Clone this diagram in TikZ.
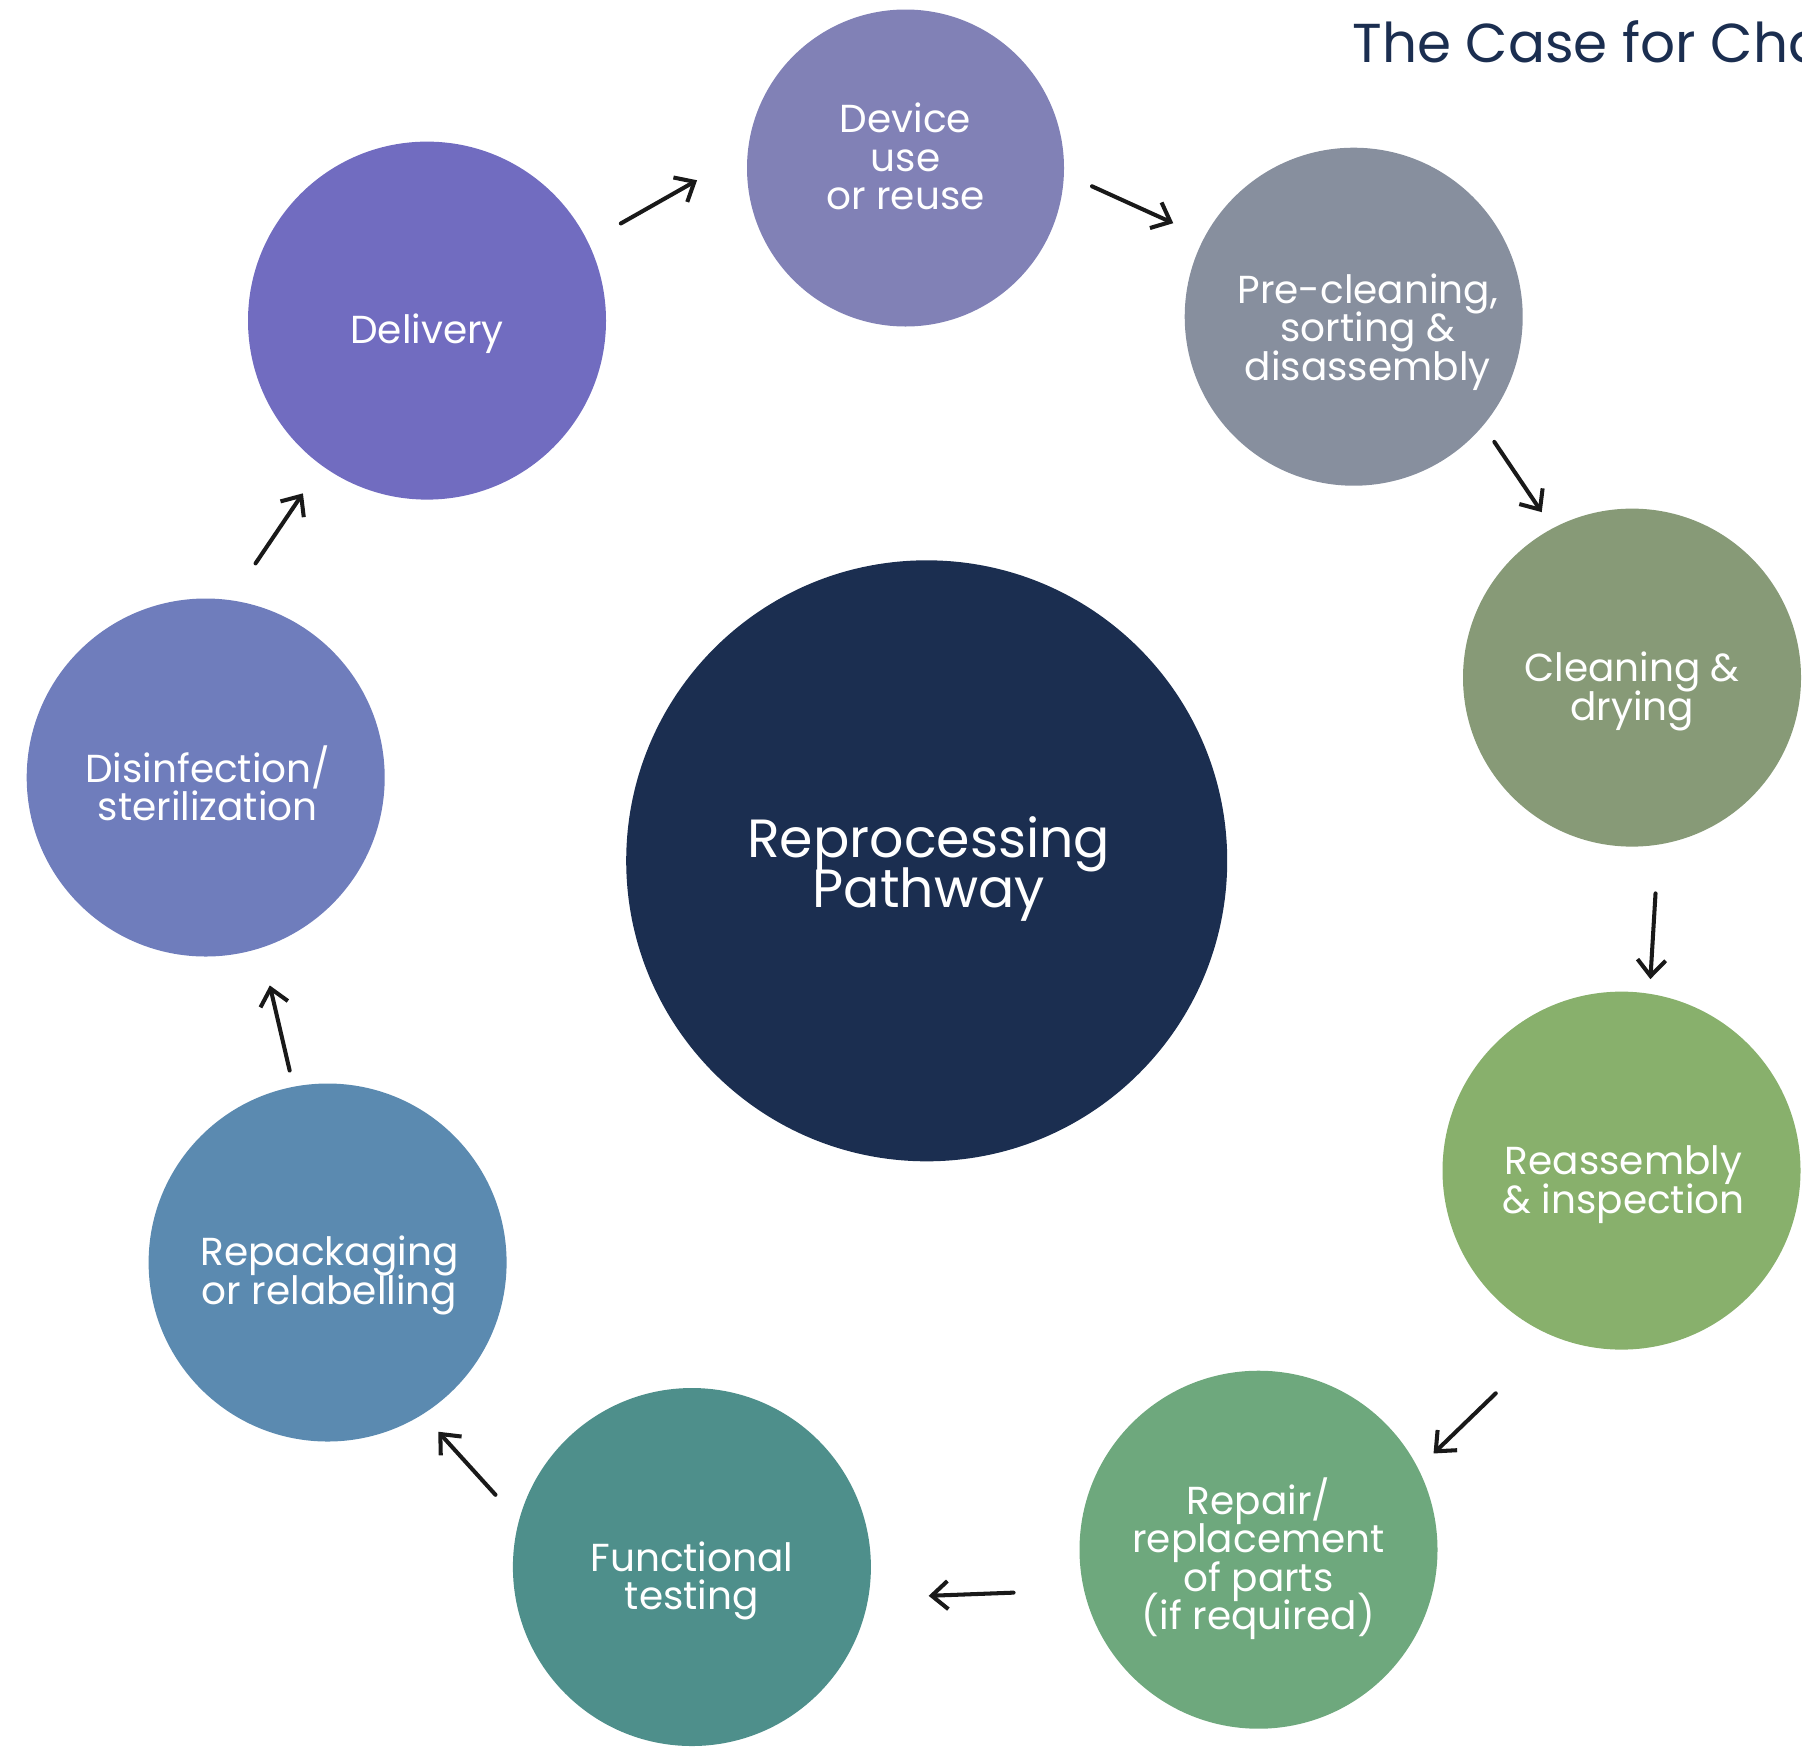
\documentclass[tikz,border=0pt]{standalone}
\usepackage{fontspec}
\setmainfont{Poppins}
\usetikzlibrary{arrows.meta}

\definecolor{navy}{HTML}{1B2E50}
\definecolor{device}{HTML}{8181B6}
\definecolor{preclean}{HTML}{878F9E}
\definecolor{cleaning}{HTML}{879A77}
\definecolor{reassembly}{HTML}{88B06C}
\definecolor{repair}{HTML}{6EA87D}
\definecolor{testing}{HTML}{4E8F8B}
\definecolor{repack}{HTML}{5B8AB0}
\definecolor{disinfect}{HTML}{6F7DBC}
\definecolor{delivery}{HTML}{716CC0}

% lines in the circles sit closer than the font would allow
\newcommand{\tightlines}{\lineskiplimit=-20pt\relax}

\begin{document}
\begin{tikzpicture}
            \tikzset{stage/.style = {shape=circle, inner sep=0pt, outer sep=0pt, minimum size=3.58cm}}
            \tikzset{caption/.style = {inner sep=0pt, text=white, align=center, font=\fontsize{11.1}{10.95}\selectfont\tightlines}}
            \tikzset{link/.style = {-{Straight Barb[length=4.6pt, width=8pt]}, line width=1.15pt, line cap=round, color=black!90}}

            \useasboundingbox (0, 0) rectangle (18.02, -17.46);

            \node[anchor=base west, color=navy, font=\fontsize{15.6}{16}\selectfont] (title) at (13.40, -0.62) {The Case for Cha};

            % the circles
            \node[stage, fill=navy, minimum size=6.01cm] (0) at (9.267, -8.608) {};
            \node[stage, fill=device, minimum size=3.17cm] (1) at (9.055, -1.68) {};
            \node[stage, fill=preclean, minimum size=3.38cm] (2) at (13.537, -3.167) {};
            \node[stage, fill=cleaning, minimum size=3.38cm] (3) at (16.32, -6.776) {};
            \node[stage, fill=reassembly] (4) at (16.215, -11.706) {};
            \node[stage, fill=repair] (5) at (12.585, -15.497) {};
            \node[stage, fill=testing] (6) at (6.919, -15.67) {};
            \node[stage, fill=repack] (7) at (3.276, -12.625) {};
            \node[stage, fill=disinfect] (8) at (2.057, -7.775) {};
            \node[stage, fill=delivery] (9) at (4.27, -3.206) {};

            % their texts
            \node[caption, font=\fontsize{15.3}{14.4}\selectfont\tightlines] (t0) at ([shift={(0.02,-0.08)}]0.center) {Reprocessing\\Pathway};
            \node[caption] (t1) at ([shift={(0,0.115)}]1.center) {Device\\use\\or reuse};
            \node[caption] (t2) at ([shift={(0.14,-0.15)}]2.center) {Pre-cleaning,\\sorting \&\\disassembly};
            \node[caption] (t3) at ([shift={(0,-0.14)}]3.center) {Cleaning \&\\drying};
            \node[caption] (t4) at ([shift={(0.02,-0.14)}]4.center) {Reassembly\\\& inspection};
            \node[caption] (t5) at ([shift={(0,-0.09)}]5.center) {Repair/\\replacement\\of parts\\(if required)};
            \node[caption] (t6) at ([shift={(0,-0.14)}]6.center) {Functional\\testing};
            \node[caption] (t7) at ([shift={(0.02,-0.13)}]7.center) {Repackaging\\or relabelling};
            \node[caption] (t8) at ([shift={(0.02,-0.06)}]8.center) {Disinfection/\\sterilization};
            \node[caption] (t9) at ([shift={(0,-0.13)}]9.center) {Delivery};

            \draw[link, shorten <=0.379cm, shorten >=0.584cm] (9.26.4) to (1.174.8);
            \draw[link, shorten <=0.308cm, shorten >=0.343cm] (1.-2.2) to (2.152.9);
            \draw[link, shorten <=0.200cm, shorten >=0.196cm] (2.-40.2) to (3.118.3);
            \draw[link, shorten <=0.490cm, shorten >=0.147cm] (3.-81.7) to (4.81.4);
            \draw[link, shorten <=0.816cm, shorten >=0.216cm] (4.-112.7) to (5.27.3);
            \draw[link, shorten <=0.706cm, shorten >=0.605cm] (5.193) to (6.-10.2);
            \draw[link, shorten <=0.350cm, shorten >=0.235cm] (6.165.1) to (7.-58.2);
            \draw[link, shorten <=0.167cm, shorten >=0.387cm] (7.101.8) to (8.-72.6);
            \draw[link, shorten <=0.445cm, shorten >=0.337cm] (8.82.4) to (9.-126.9);
        \end{tikzpicture}
\end{document}
